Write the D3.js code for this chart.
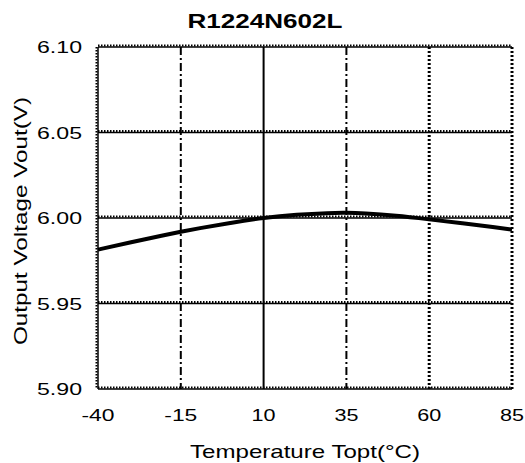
<!DOCTYPE html>
<html><head><meta charset="utf-8">
<script src="https://cdn.jsdelivr.net/npm/d3@7"></script>
<style>body{margin:0;background:#fff}svg{display:block}text{font-family:"Liberation Sans",Arial,sans-serif;fill:#000}</style>
</head><body><svg id="c" width="525" height="463"></svg>
<script>
const title = "R1224N602L";
const xTicks = [-40, -15, 10, 35, 60, 85];
const xTickLabels = ["-40", "-15", "10", "35", "60", "85"];
const yTicks = [5.90, 5.95, 6.00, 6.05, 6.10];
const yTickLabels = ["5.90", "5.95", "6.00", "6.05", "6.10"];
const temps = [-40, -30, -20, -15, -10, 0, 10, 20, 30, 35, 40, 50, 60, 70, 80, 85];
const vout = [5.9815, 5.9858, 5.9900, 5.9920, 5.9938, 5.9972, 6.0002, 6.0020, 6.0030, 6.0031, 6.0028, 6.0014, 5.9992, 5.9970, 5.9945, 5.9932];
const xTitle = "Temperature Topt(°C)";
const yTitle = "Output Voltage Vout(V)";

const svg = d3.select("#c");
const L = 98, R = 512, T = 47, B = 389;
const x = d3.scaleLinear().domain([-40, 85]).range([L, R]);
const y = d3.scaleLinear().domain([5.90, 6.10]).range([B, T]);

svg.append("text").attr("x", 265).attr("y", 28).attr("text-anchor", "middle")
  .attr("font-size", 21).attr("font-weight", "bold")
  .attr("textLength", 155).attr("lengthAdjust", "spacingAndGlyphs").text(title);

const g = svg.append("g");
// vertical interior gridlines
const vStyles = {"-15": "8,3,2,3", "10": null, "35": "8,3,2,3", "60": "2,2"};
xTicks.slice(1, 5).forEach(t => {
  const ln = g.append("line").attr("x1", x(t)).attr("x2", x(t)).attr("y1", T).attr("y2", B)
    .attr("stroke", "#000").attr("stroke-width", t === 60 ? 3 : 2);
  if (vStyles[t]) ln.attr("stroke-dasharray", vStyles[t]);
});
// horizontal interior gridlines: solid + tick pattern above
yTicks.slice(1, 4).forEach(v => {
  g.append("line").attr("x1", L).attr("x2", R).attr("y1", y(v)).attr("y2", y(v))
    .attr("stroke", "#000").attr("stroke-width", 1.5);
  g.append("line").attr("x1", L).attr("x2", R).attr("y1", y(v) - 1.5).attr("y2", y(v) - 1.5)
    .attr("stroke", "#000").attr("stroke-width", 2).attr("stroke-dasharray", "1.5,1.5");
});
// borders
g.append("line").attr("x1", L).attr("x2", R).attr("y1", T).attr("y2", T).attr("stroke", "#000").attr("stroke-width", 1.5);
g.append("line").attr("x1", L).attr("x2", R).attr("y1", T - 1.5).attr("y2", T - 1.5).attr("stroke", "#000").attr("stroke-width", 2).attr("stroke-dasharray", "1.5,1.5");
g.append("line").attr("x1", L).attr("x2", R).attr("y1", B).attr("y2", B).attr("stroke", "#000").attr("stroke-width", 1.5);
g.append("line").attr("x1", L).attr("x2", R).attr("y1", B - 1.5).attr("y2", B - 1.5).attr("stroke", "#000").attr("stroke-width", 2).attr("stroke-dasharray", "1.5,1.5");
g.append("line").attr("x1", L).attr("x2", L).attr("y1", T).attr("y2", B).attr("stroke", "#000").attr("stroke-width", 1.5);
g.append("line").attr("x1", L - 1.5).attr("x2", L - 1.5).attr("y1", T).attr("y2", B).attr("stroke", "#000").attr("stroke-width", 2).attr("stroke-dasharray", "1.5,1.5");
g.append("line").attr("x1", R).attr("x2", R).attr("y1", T).attr("y2", B).attr("stroke", "#000").attr("stroke-width", 3).attr("stroke-dasharray", "2,2");

// curve
const line = d3.line().x((d, i) => x(temps[i])).y(d => y(d)).curve(d3.curveBasis);
svg.append("path").datum(vout).attr("d", line).attr("fill", "none")
  .attr("stroke", "#000").attr("stroke-width", 4);

// tick labels
yTicks.forEach((v, i) => {
  svg.append("text").attr("x", 82).attr("y", y(v) + 6).attr("text-anchor", "end")
    .attr("font-size", 17).attr("textLength", 45).attr("lengthAdjust", "spacingAndGlyphs")
    .text(yTickLabels[i]);
});
xTicks.forEach((t, i) => {
  const w = xTickLabels[i].length === 3 ? 33 : 24;
  svg.append("text").attr("x", x(t)).attr("y", 421).attr("text-anchor", "middle")
    .attr("font-size", 17).attr("textLength", w).attr("lengthAdjust", "spacingAndGlyphs")
    .text(xTickLabels[i]);
});

svg.append("text").attr("x", 305).attr("y", 458).attr("text-anchor", "middle")
  .attr("font-size", 19).attr("textLength", 230).attr("lengthAdjust", "spacingAndGlyphs").text(xTitle);
svg.append("text").attr("transform", "translate(27,221) rotate(-90)").attr("text-anchor", "middle")
  .attr("font-size", 19).attr("textLength", 248).attr("lengthAdjust", "spacingAndGlyphs").text(yTitle);
</script></body></html>
